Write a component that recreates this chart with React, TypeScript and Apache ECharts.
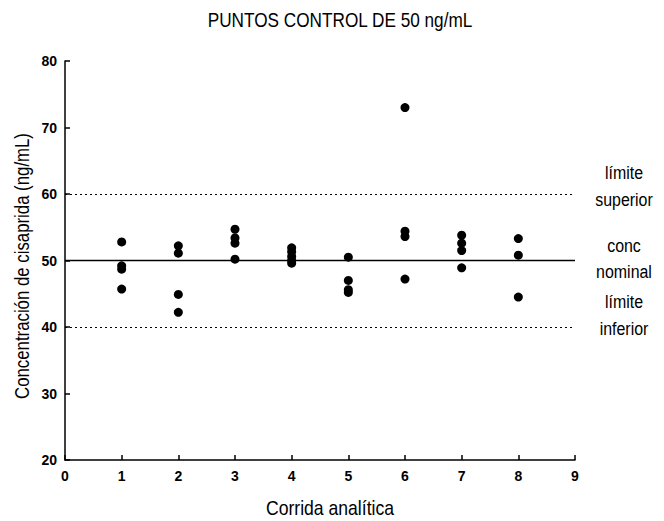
import React, { useEffect, useRef } from "react";
import * as echarts from "echarts";

const titleText = "PUNTOS CONTROL DE 50 ng/mL";
const xName = "Corrida analítica";
const yName = "Concentración de cisaprida (ng/mL)";
const runX = [1, 1, 1, 1, 2, 2, 2, 2, 3, 3, 3, 3, 4, 4, 4, 4, 4, 5, 5, 5, 5, 6, 6, 6, 6, 7, 7, 7, 7, 8, 8, 8];
const concY = [
  52.8, 49.2, 48.7, 45.7,
  52.2, 51.1, 44.9, 42.2,
  54.7, 53.4, 52.6, 50.2,
  51.9, 51.3, 50.6, 50.0, 49.6,
  50.5, 47.0, 45.6, 45.2,
  73.0, 54.4, 53.6, 47.2,
  53.8, 52.6, 51.5, 48.9,
  53.3, 50.8, 44.5,
];
const upperLimit = 60;
const nominal = 50;
const lowerLimit = 40;
const rightLabelTexts = ["límite\nsuperior", "conc\nnominal", "límite\ninferior"];
const rightLabelValues = [upperLimit, nominal, lowerLimit];

const FONT = "'Liberation Sans', Arial, sans-serif";

export default function App() {
  const ref = useRef<HTMLDivElement>(null);
  useEffect(() => {
    const chart = echarts.init(ref.current!, null, { renderer: "svg" });
    const data = runX.map((x, i) => [x, concY[i]]);
    chart.setOption({
      animation: false,
      backgroundColor: "#fff",
      textStyle: { fontFamily: FONT, color: "#000" },
      grid: { left: 65, right: 89, top: 61, bottom: 61 },
      xAxis: {
        type: "value",
        min: 0,
        max: 9,
        interval: 1,
        axisLine: { lineStyle: { color: "#000", width: 1.5 } },
        axisTick: { inside: true, length: 5, lineStyle: { color: "#000", width: 1.5 } },
        axisLabel: { fontFamily: FONT, fontSize: 14, color: "#000", margin: 9, fontWeight: "bold" },
        splitLine: { show: false },
      },
      yAxis: {
        type: "value",
        min: 20,
        max: 80,
        interval: 10,
        axisLine: { show: true, lineStyle: { color: "#000", width: 1.5 } },
        axisTick: { show: true, inside: true, length: 5, lineStyle: { color: "#000", width: 1.5 } },
        axisLabel: { fontFamily: FONT, fontSize: 14, color: "#000", margin: 8, fontWeight: "bold" },
        splitLine: { show: false },
      },
      series: [
        {
          type: "scatter",
          data,
          symbol: "circle",
          symbolSize: 9,
          itemStyle: { color: "#000", opacity: 1 },
          z: 5,
          markLine: {
            silent: true,
            symbol: ["none", "none"],
            label: { show: false },
            data: [
              { yAxis: upperLimit, lineStyle: { type: [2, 3], color: "#000", width: 1.2, opacity: 1 } },
              { yAxis: nominal, lineStyle: { type: "solid", color: "#000", width: 1.3, opacity: 1 } },
              { yAxis: lowerLimit, lineStyle: { type: [2, 3], color: "#000", width: 1.2, opacity: 1 } },
            ],
          },
        },
      ],
    });
    const offsets = [-8, -2, -12];
    const side = rightLabelTexts.map((t, i) => {
      const p = chart.convertToPixel({ gridIndex: 0 }, [9, rightLabelValues[i]]);
      return {
        type: "text",
        x: 624,
        y: p[1] + offsets[i],
        scaleX: 0.84,
        style: {
          text: t,
          fontFamily: FONT,
          fontSize: 19,
          fill: "#000",
          textAlign: "center",
          textVerticalAlign: "middle",
          lineHeight: 27,
        },
      };
    });
    const texts = [
      {
        type: "text",
        x: 340,
        y: 20,
        scaleX: 0.86,
        style: { text: titleText, fontFamily: FONT, fontSize: 20, fill: "#000", textAlign: "center", textVerticalAlign: "middle" },
      },
      {
        type: "text",
        x: 330,
        y: 508,
        scaleX: 0.88,
        style: { text: xName, fontFamily: FONT, fontSize: 20, fill: "#000", textAlign: "center", textVerticalAlign: "middle" },
      },
      {
        type: "text",
        x: 22,
        y: 266,
        rotation: Math.PI / 2,
        scaleX: 0.84,
        style: { text: yName, fontFamily: FONT, fontSize: 20, fill: "#000", textAlign: "center", textVerticalAlign: "middle" },
      },
    ];
    chart.setOption({ graphic: [...side, ...texts] });
    return () => chart.dispose();
  }, []);
  return <div ref={ref} style={{ width: 664, height: 521, marginLeft: -8, marginTop: -8 }} />;
}
